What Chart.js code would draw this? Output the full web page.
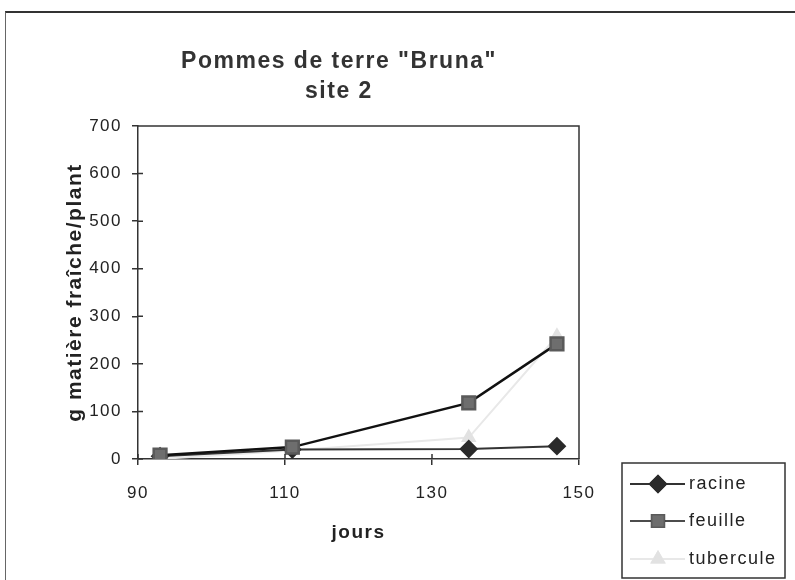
<!DOCTYPE html>
<html>
<head>
<meta charset="utf-8">
<script src="https://cdn.jsdelivr.net/npm/chart.js@4.4.1/dist/chart.umd.min.js"></script>
<style>
  html, body { margin: 0; padding: 0; background: #fff; }
  #wrap { position: relative; width: 795px; height: 580px; overflow: hidden; }
  #frame { position: absolute; left: 5px; top: 11px; right: 0; bottom: 0; border-top: 2px solid #333; border-left: 1px solid #666; }
  canvas { position: absolute; left: 0; top: 0; }
  #title {
    position: absolute; left: 0; top: 45px; width: 678px; text-align: center;
    font: bold 23px/30px "Liberation Sans", Arial, sans-serif; letter-spacing: 1.5px; color: #333;
    z-index: 2;
  }
</style>
</head>
<body>
<div id="wrap">
  <div id="frame"></div>
  <canvas id="chart" width="795" height="580"></canvas>
  <div id="title"></div>
</div>
<script>
// jours de mesure
const days = [93, 111, 135, 147];

// g matière fraîche / plant
const racine = [6, 20, 21, 27];
const feuille = [8, 25, 118, 242];
const tubercule = [0, 18, 45, 258];

const xTicks = [90, 110, 130, 150];
const yTicks = [0, 100, 200, 300, 400, 500, 600, 700];

const titleLines = ['Pommes de terre "Bruna"', 'site 2'];

const FONT = '"Liberation Sans", Arial, sans-serif';
const INK = '#222';

document.getElementById('title').innerHTML = titleLines.join('<br>');

function toPoints(values) {
  return days.map((d, i) => ({ x: d, y: values[i] }));
}

// old Excel text is wider than Liberation Sans, so space the letters a bit
const wideText = {
  id: 'wideText',
  beforeDraw(chart) { chart.ctx.letterSpacing = '1.5px'; },
  afterDraw(chart) { chart.ctx.letterSpacing = '0px'; }
};

// tick marks crossing the axis + box on top/right of the plot
const plotFrame = {
  id: 'plotFrame',
  afterDraw(chart) {
    const { ctx, chartArea, scales } = chart;
    ctx.save();
    ctx.strokeStyle = '#333';
    ctx.lineWidth = 1.5;
    ctx.beginPath();
    ctx.moveTo(chartArea.left, chartArea.top);
    ctx.lineTo(chartArea.right, chartArea.top);
    ctx.lineTo(chartArea.right, chartArea.bottom);
    for (let v of xTicks) {
      let px = scales.x.getPixelForValue(v);
      ctx.moveTo(px, chartArea.bottom);
      ctx.lineTo(px, chartArea.bottom - 5);
    }
    for (let v of yTicks) {
      let py = scales.y.getPixelForValue(v);
      ctx.moveTo(chartArea.left, py);
      ctx.lineTo(chartArea.left + 5, py);
    }
    ctx.stroke();
    ctx.restore();
  }
};

// legend box sitting in the bottom right corner
const cornerLegend = {
  id: 'cornerLegend',
  afterDraw(chart) {
    const ctx = chart.ctx;
    const box = { x: 622, y: 463, w: 163, h: 115 };
    ctx.save();
    ctx.letterSpacing = '1.5px';
    ctx.fillStyle = '#fff';
    ctx.fillRect(box.x, box.y, box.w, box.h);
    ctx.strokeStyle = '#333';
    ctx.lineWidth = 1.5;
    ctx.strokeRect(box.x, box.y, box.w, box.h);
    ctx.font = '18px ' + FONT;
    ctx.textBaseline = 'middle';
    ctx.fillStyle = INK;
    let rowY = [484, 521, 559];
    chart.data.datasets.forEach((ds, i) => {
      let y = rowY[i];
      ctx.strokeStyle = ds.borderColor;
      ctx.lineWidth = i == 1 ? 1.5 : ds.borderWidth;
      ctx.beginPath();
      ctx.moveTo(630, y);
      ctx.lineTo(685, y);
      ctx.stroke();
      Chart.helpers.drawPoint(ctx, {
        pointStyle: ds.pointStyle,
        radius: ds.pointRadius,
        rotation: 0,
        borderWidth: 1
      }, 658, y);
      ctx.fillStyle = ds.pointBackgroundColor;
      ctx.strokeStyle = ds.pointBorderColor;
      ctx.fill();
      ctx.stroke();
      ctx.fillStyle = INK;
      ctx.fillText(ds.label, 689, y);
    });
    ctx.restore();
  }
};

new Chart(document.getElementById('chart'), {
  type: 'line',
  data: {
    datasets: [
      {
        label: 'racine',
        data: toPoints(racine),
        borderColor: '#333',
        borderWidth: 2,
        pointStyle: 'rectRot',
        pointRadius: 8,
        pointBackgroundColor: '#2a2a2a',
        pointBorderColor: '#2a2a2a',
        order: 2
      },
      {
        label: 'feuille',
        data: toPoints(feuille),
        borderColor: '#111',
        borderWidth: 2.5,
        pointStyle: 'rect',
        pointRadius: 9,
        pointBackgroundColor: '#6e6e6e',
        pointBorderColor: '#5a5a5a',
        order: 1
      },
      {
        label: 'tubercule',
        data: toPoints(tubercule),
        borderColor: '#e8e8e8',
        borderWidth: 2,
        pointStyle: 'triangle',
        pointRadius: 7,
        pointBackgroundColor: '#e2e2e2',
        pointBorderColor: '#e2e2e2',
        order: 3
      }
    ]
  },
  options: {
    responsive: false,
    animation: false,
    layout: { padding: { top: 126, right: 216, bottom: 33, left: 0 } },
    plugins: {
      legend: { display: false },
      tooltip: { enabled: false },
      title: { display: false }
    },
    scales: {
      x: {
        type: 'linear',
        min: 90,
        max: 150,
        afterBuildTicks: (s) => { s.ticks = xTicks.map((v) => ({ value: v })); },
        afterFit: (s) => { s.height = 88; },
        grid: { drawOnChartArea: false, drawTicks: true, tickLength: 6, color: '#333', lineWidth: 1.5 },
        border: { color: '#333', width: 1.5 },
        ticks: { color: INK, padding: 18, font: { family: FONT, size: 17 } },
        title: {
          display: true,
          text: 'jours',
          color: INK,
          font: { family: FONT, size: 19, weight: 'bold' },
          padding: { top: 0, bottom: 3 }
        }
      },
      y: {
        min: 0,
        max: 700,
        afterBuildTicks: (s) => { s.ticks = yTicks.map((v) => ({ value: v })); },
        afterFit: (s) => { s.width = 138; },
        grid: { drawOnChartArea: false, drawTicks: true, tickLength: 6, color: '#333', lineWidth: 1.5 },
        border: { color: '#333', width: 1.5 },
        ticks: { color: INK, padding: 10, font: { family: FONT, size: 17 } },
        title: {
          display: true,
          text: 'g matière fraîche/plant',
          color: INK,
          font: { family: FONT, size: 21, weight: 'bold' },
          padding: { top: 63, bottom: 0 }
        }
      }
    }
  },
  plugins: [wideText, plotFrame, cornerLegend]
});
</script>
</body>
</html>
